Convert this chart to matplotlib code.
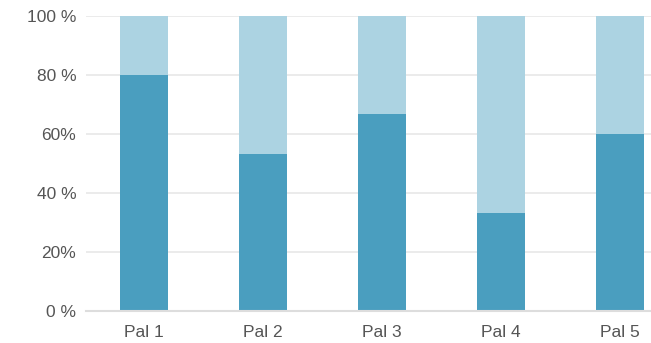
import matplotlib.pyplot as plt
import numpy as np

plt.rcParams['font.family'] = ['Liberation Sans', 'DejaVu Sans']

pallets = ['Pal 1', 'Pal 2', 'Pal 3', 'Pal 4', 'Pal 5']
lower = [80, 53.3, 66.7, 33.3, 60]
upper = [100 - v for v in lower]
ytick_vals = [0, 20, 40, 60, 80, 100]
ytick_labels = ['0 %', '20%', '40 %', '60%', '80 %', '100 %']

dark = '#4a9ebf'
light = '#acd3e2'
text_col = '#555555'

fig = plt.figure(figsize=(6.51, 3.43), dpi=100)
ax = fig.add_axes([86 / 651, 32 / 343, 565 / 651, 295 / 343])

x = np.arange(len(pallets))
ax.bar(x, lower, width=0.4, color=dark, zorder=2)
ax.bar(x, upper, bottom=lower, width=0.4, color=light, zorder=2)

ax.set_xlim(-0.49, 4.26)
ax.set_ylim(0, 100)
ax.set_yticks(ytick_vals)
ax.set_yticklabels(ytick_labels)
ax.set_xticks(x)
ax.set_xticklabels(pallets)
ax.tick_params(length=0, labelsize=12.5, labelcolor=text_col)
ax.tick_params(axis='y', pad=7)
ax.tick_params(axis='x', pad=10)

ax.grid(axis='y', color='#e8e8e8', linewidth=1.2, zorder=0)
for s in ['top', 'right', 'left']:
    ax.spines[s].set_visible(False)
ax.spines['bottom'].set_color('#dddddd')
ax.spines['bottom'].set_linewidth(1.5)

fig.savefig('out.png', dpi=100)
